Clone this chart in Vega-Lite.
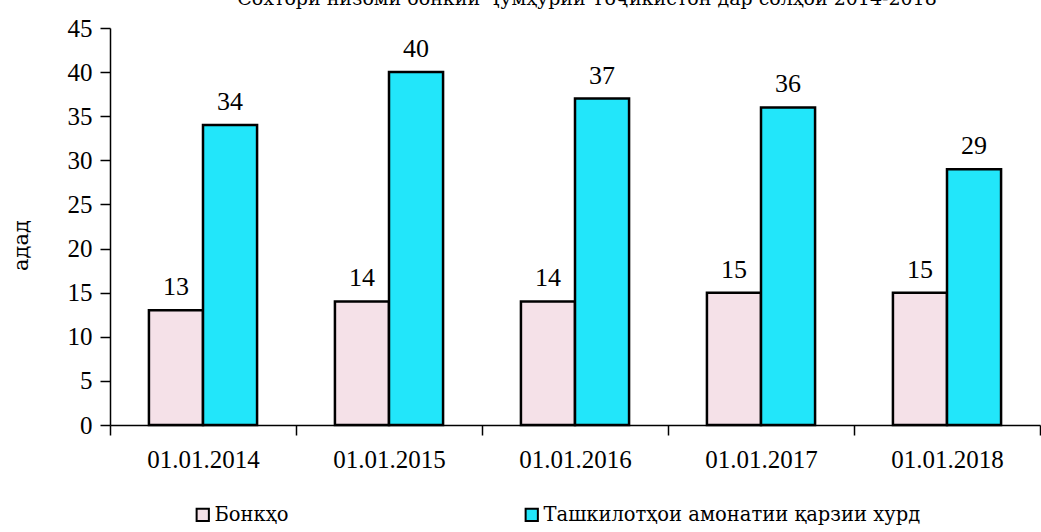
{
  "$schema": "https://vega.github.io/schema/vega-lite/v6.json",
  "width": 930,
  "height": 397,
  "autosize": "none",
  "padding": {"left": 110, "top": 28, "right": 1, "bottom": 107},
  "background": "white",
  "title": {
    "text": "Сохтори низоми бонкии Ҷумҳурии Тоҷикистон дар солҳои 2014-2018",
    "font": "DejaVu Serif",
    "fontSize": 19,
    "fontWeight": "normal",
    "color": "#000000",
    "anchor": "middle",
    "baseline": "alphabetic",
    "offset": 0,
    "dx": 12,
    "dy": 8
  },
  "config": {
    "view": {"stroke": null},
    "font": "DejaVu Serif"
  },
  "data": {
    "values": [
      {"date": "01.01.2014", "series": "Бонкҳо", "value": 13},
      {"date": "01.01.2014", "series": "Ташкилотҳои амонатии  қарзии хурд", "value": 34},
      {"date": "01.01.2015", "series": "Бонкҳо", "value": 14},
      {"date": "01.01.2015", "series": "Ташкилотҳои амонатии  қарзии хурд", "value": 40},
      {"date": "01.01.2016", "series": "Бонкҳо", "value": 14},
      {"date": "01.01.2016", "series": "Ташкилотҳои амонатии  қарзии хурд", "value": 37},
      {"date": "01.01.2017", "series": "Бонкҳо", "value": 15},
      {"date": "01.01.2017", "series": "Ташкилотҳои амонатии  қарзии хурд", "value": 36},
      {"date": "01.01.2018", "series": "Бонкҳо", "value": 15},
      {"date": "01.01.2018", "series": "Ташкилотҳои амонатии  қарзии хурд", "value": 29}
    ]
  },
  "encoding": {
    "x": {
      "field": "date",
      "type": "nominal",
      "scale": {"paddingInner": 0, "paddingOuter": 0},
      "axis": {
        "title": null,
        "labelAngle": 0,
        "labelFont": "Liberation Serif",
        "labelFontSize": 25,
        "labelColor": "#000000",
        "labelPadding": 12,
        "domainColor": "#000000",
        "domainWidth": 1.5,
        "tickColor": "#000000",
        "tickWidth": 1.5,
        "tickSize": 10,
        "tickBand": "extent",
        "grid": false
      }
    },
    "xOffset": {
      "field": "series",
      "type": "nominal",
      "sort": ["Бонкҳо", "Ташкилотҳои амонатии  қарзии хурд"],
      "scale": {"paddingInner": 0, "paddingOuter": 0.72}
    },
    "y": {
      "field": "value",
      "type": "quantitative",
      "scale": {"domain": [0, 45], "nice": false},
      "axis": {
        "title": "адад",
        "titleFont": "DejaVu Serif",
        "titleFontSize": 21,
        "titleFontWeight": "normal",
        "titleColor": "#000000",
        "titlePadding": 36,
        "titleY": 217,
        "values": [0, 5, 10, 15, 20, 25, 30, 35, 40, 45],
        "labelFont": "Liberation Serif",
        "labelFontSize": 25,
        "labelColor": "#000000",
        "labelPadding": 8,
        "domainColor": "#000000",
        "domainWidth": 1.5,
        "tickColor": "#000000",
        "tickWidth": 1.5,
        "tickSize": 10,
        "grid": false
      }
    }
  },
  "layer": [
    {
      "mark": {"type": "bar", "stroke": "#000000", "strokeWidth": 2.5},
      "encoding": {
        "color": {
          "field": "series",
          "type": "nominal",
          "scale": {
            "domain": ["Бонкҳо", "Ташкилотҳои амонатии  қарзии хурд"],
            "range": ["#f5e1e8", "#22e6fa"]
          },
          "legend": {
            "title": null,
            "orient": "none",
            "direction": "horizontal",
            "legendX": 83,
            "legendY": 477,
            "symbolType": "square",
            "symbolSize": 150,
            "symbolStrokeColor": "#000000",
            "symbolStrokeWidth": 2,
            "symbolOpacity": 1,
            "labelFont": "DejaVu Serif",
            "labelFontSize": 19.5,
            "labelColor": "#000000",
            "labelOffset": 2,
            "columnPadding": 232,
            "labelLimit": 600
          }
        }
      }
    },
    {
      "mark": {
        "type": "text",
        "baseline": "bottom",
        "dy": -10,
        "font": "Liberation Serif",
        "fontSize": 26,
        "color": "#000000"
      },
      "encoding": {"text": {"field": "value", "type": "quantitative"}}
    }
  ]
}
